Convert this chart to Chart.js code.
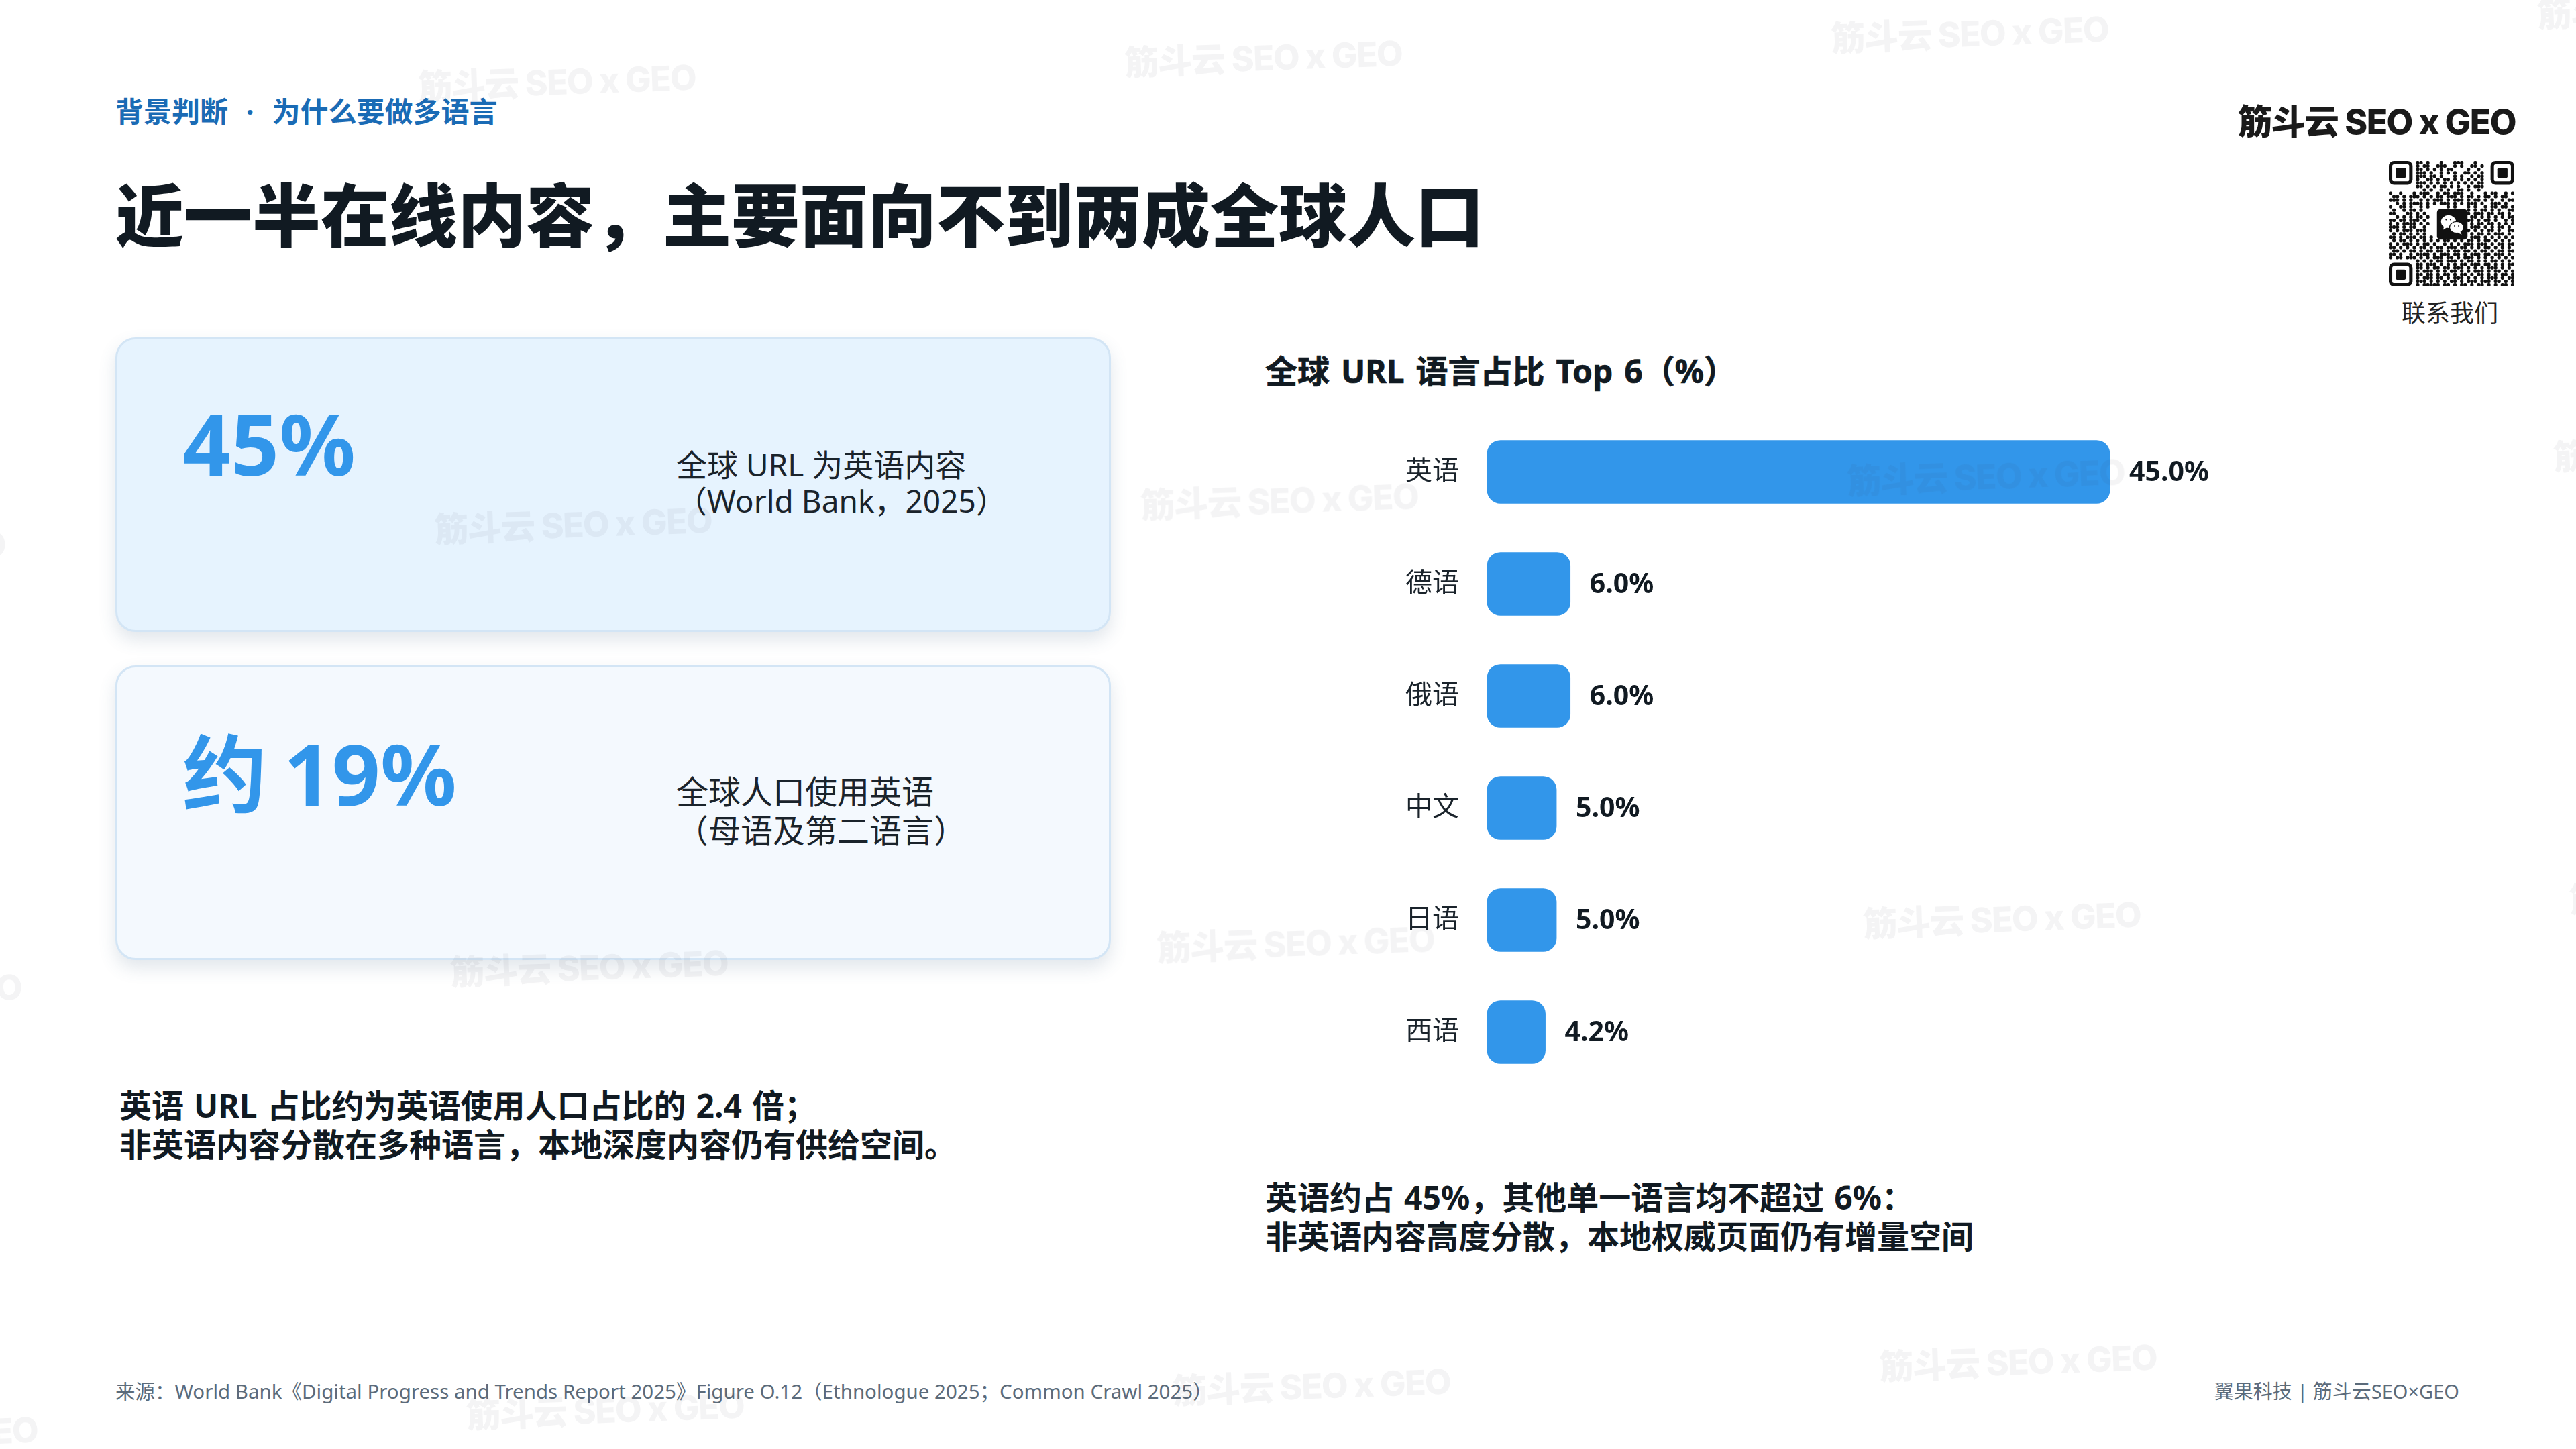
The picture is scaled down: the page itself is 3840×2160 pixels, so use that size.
<!DOCTYPE html>
<html lang="zh-CN"><head><meta charset="utf-8">
<script src="https://cdn.jsdelivr.net/npm/chart.js@4"></script>
<style>
html,body{margin:0;padding:0;background:#fff;width:3840px;height:2160px;overflow:hidden}
body{position:relative;font-family:"Noto Sans","Noto Sans CJK SC",sans-serif;color:#111a22}
.t{position:absolute;white-space:pre;}
.card{position:absolute;left:172px;width:1484px;height:439px;box-sizing:border-box;border:3px solid #d3e5f5;border-radius:30px;box-shadow:0 12px 26px rgba(70,100,130,.16)}
.wm{position:absolute;font-family:Inter,"Noto Sans CJK SC",sans-serif;font-weight:800;font-size:51.5px;letter-spacing:-1.5px;line-height:60px;color:rgba(30,40,50,.05);white-space:pre;transform:translate(-50%,-50%) rotate(-2deg);pointer-events:none}
.num{font-weight:700;font-size:126px;line-height:150px;color:#3296ea;word-spacing:-8px}
.body{font-size:48px;line-height:58px;color:#1a232b}
.note{font-size:48px;line-height:58px;font-weight:700;color:#111a22;word-spacing:2.5px}
#chartBox{position:absolute;left:1871px;top:619.5px;width:1530px;height:1002px}
#qr{position:absolute;left:3561px;top:240px;width:187px;height:187px}
</style></head><body>
<div class="t" style="left:172px;top:136px;font-size:42px;line-height:60px;font-weight:700;color:#1a6bb5;word-spacing:2.5px">背景判断  ·  为什么要做多语言</div>
<div class="t" style="left:172px;top:251px;font-size:102px;line-height:140px;font-weight:900;color:#111a22">近一半在线内容，主要面向不到两成全球人口</div>
<div class="t" style="right:90px;top:151px;font-family:Inter,'Noto Sans CJK SC',sans-serif;font-size:51.5px;line-height:60px;font-weight:800;letter-spacing:-1.5px;color:#1a1a1a">筋斗云 SEO x GEO</div>
<svg id="qr" viewBox="0 0 37 37"></svg>
<div class="t" style="left:3580px;top:442px;font-size:36px;line-height:50px;color:#222">联系我们</div>

<div class="card" style="top:503px;background:#e6f3fe"></div>
<div class="card" style="top:992px;background:#f4f9fe"></div>
<div class="t num" style="left:272px;top:585px">45%</div>
<div class="t num" style="left:272px;top:1077px">约 19%</div>
<div class="t body" style="left:1008px;top:665px;font-size:46px;line-height:54px">全球 URL 为英语内容
（World Bank，2025）</div>
<div class="t body" style="left:1008px;top:1151px">全球人口使用英语
（母语及第二语言）</div>
<div class="t note" style="left:178px;top:1619px">英语 URL 占比约为英语使用人口占比的 2.4 倍；
非英语内容分散在多种语言，本地深度内容仍有供给空间。</div>
<div class="t note" style="left:1886px;top:1756px">英语约占 45%，其他单一语言均不超过 6%：
非英语内容高度分散，本地权威页面仍有增量空间</div>
<div class="t" style="left:1886px;top:519px;font-size:48px;line-height:68px;font-weight:700;-webkit-text-stroke:.7px #111a22;word-spacing:4.5px;color:#111a22">全球 URL 语言占比 Top 6（%）</div>
<div id="chartBox"><canvas id="c" width="1530" height="1002"></canvas></div>
<div class="t" style="left:172px;top:2052px;font-size:29.5px;line-height:44px;color:#5c6b7a">来源：World Bank《Digital Progress and Trends Report 2025》Figure O.12（Ethnologue 2025；Common Crawl 2025）</div>
<div class="t" style="right:174px;top:2052px;font-size:29px;line-height:44px;color:#5c6b7a">翼果科技 | 筋斗云SEO×GEO</div>
<div id="wms"></div>
<script>
const categories = ["英语","德语","俄语","中文","日语","西语"];
const urlShare = [45.0,6.0,6.0,5.0,5.0,4.2];
const barColor = "#3296ea";

const valueLabels = {
  id:"valueLabels",
  afterDatasetsDraw(chart){
    const ctx = chart.ctx;
    ctx.save();
    ctx.font = "700 41px 'Noto Sans','Noto Sans CJK SC',sans-serif";
    ctx.fillStyle = "#111a22";
    ctx.textBaseline = "middle";
    chart.getDatasetMeta(0).data.forEach((el,i)=>{
      ctx.fillText(urlShare[i].toFixed(1)+"%", el.x+29, el.y+2);
    });
    ctx.restore();
  }
};
new Chart(document.getElementById("c"),{
  type:"bar",
  data:{labels:categories,datasets:[{data:urlShare,backgroundColor:barColor,barThickness:94,borderRadius:20,borderSkipped:false}]},
  options:{
    indexAxis:"y",responsive:false,animation:false,devicePixelRatio:1,
    layout:{padding:{left:0,right:256,top:0,bottom:0}},
    plugins:{legend:{display:false},tooltip:{enabled:false},title:{display:false}},
    scales:{
      x:{min:0,max:45,display:false},
      y:{grid:{display:false,drawTicks:false},border:{display:false},
         afterFit(s){s.width=346;s.paddingTop=0;s.paddingBottom=0;},
         ticks:{padding:42,color:"#1a232b",font:{family:"'Noto Sans','Noto Sans CJK SC',sans-serif",size:40}}}
    }
  },
  plugins:[valueLabels]
});

// watermark grid
const wmBox=document.getElementById("wms");
for(let r=0;r<4;r++)for(let c=-1;c<4;c++){
  const d=document.createElement("div");d.className="wm";d.textContent="筋斗云 SEO x GEO";
  d.style.left=(830+1053*c+24*r)+"px";d.style.top=(122-36*c+660*r)+"px";wmBox.appendChild(d);
}

// QR decoration
const qrRows=[
"........##.#...#...###...#...",
"........#.##..###..#.#..##.#.",
"........##.#.#.#.##....#..#..",
"........###.#..#.#.#..##.#.#.",
"........###.##.#...#.#..#.##.",
"........#..##.#.##.#.#.#.#.#.",
"........###.#.#.#.#.#.#.#.##.",
"........##.#.#.##.#.#..#.###.",
"..........#.#..#.#..##.#..#..",
"#..#...#.###..#.##.###..#...#.##..#.#",
".##.#.###.#.#.##.###.#.##.#.##.#.##.",
"###.#.#..#.#.###.#.###.#.##.#.#..#.##",
"..#.#.####.#.#.###.#.#.###.#..###.#..",
"#..##.#..#.#.....#.#...#.#..#.##.##.#",
".#..#.##.#..........#.##.#.##.#.#..##",
"##...##.#.#...........##.###.##.##.#.",
"..#.#.#.##.#..........#.##.#.#.#.#.##",
"##.##.###.#...........###.#.##.#..#.#",
"#.#.####.#.#..........#.#.##.##.#.#.#",
"###.#.##..#...........#.###.#.#.##.#.",
"#.#.###.###...........##.#.#.##.#..##",
".#.##.#.#.#...........#.#.##.#.###.#.",
"##.#.###.##.#...........###.#.#.#.#.#",
".#.##.#.#.#.#.#.##.#.#.##.#.##.#.#.#.",
"#.#.###.#.##.#..#.#.#.###.###.#.##.##",
"##.#.#.#.##.#.##.###.##.#.#.##.#.#.#.",
".##.#.##.#.##.##.#.##.##.#.##.#.##.##",
"##.#..#.####.#.###.##.#.###.##.###.#.",
"#.##.###.#.#.###.##.#.###.#.#.#.#.#.#",
"........#.#.#.##.###.#.##.#.#.##.#.#.",
"........##.###.#.#.#.##.###.##.#.#.##",
"........##.#.##.##.###.#.#.#.###.#.#.",
"........#.###.#.#.##.#.#.###.#.##.#.#",
"........##.##.#.##.#.##.#.##.#.#.##.#",
"........#.###.##.#.###.#.#.#.###.#.##",
"........###.#.#.#.##.#.###.###.##.#.#",
"........#.#####.##.#.##.#.##.#.#.##.#"
];
const qr=document.getElementById("qr");let s="";
qrRows.forEach((row,y)=>{[...row.padEnd(37,".")].forEach((ch,x)=>{
  const inF=(x<8&&y<8)||(x>28&&y<8)||(x<8&&y>28);
  const inL=x>=14&&x<23&&y>=14&&y<23;
  if(ch==="#"&&!inF&&!inL)s+=`<rect x="${x}" y="${y}" width="1" height="1" rx=".35" fill="#111"/>`;
});});
[[0,0],[30,0],[0,30]].forEach(([x,y])=>{
  s+=`<rect x="${x+.5}" y="${y+.5}" width="6" height="6" rx="1" fill="none" stroke="#111" stroke-width="1"/>`;
  s+=`<rect x="${x+2}" y="${y+2}" width="3" height="3" rx=".4" fill="#111"/>`;
});
s+=`<rect x="14.2" y="14.2" width="9" height="9" rx="1" fill="#111"/>`;
s+=`<ellipse cx="17.6" cy="17.9" rx="2.2" ry="1.9" fill="#fff"/><path d="M16.3 19.2l-.3 1.1 1.2-.7z" fill="#fff"/>`;
s+=`<ellipse cx="20" cy="19.6" rx="2.1" ry="1.7" stroke="#111" stroke-width=".25" fill="#fff"/><path d="M21 20.8l.5.9-1.3-.6z" fill="#fff"/>`;
s+=`<circle cx="16.9" cy="17.3" r=".22" fill="#111"/><circle cx="18.2" cy="17.3" r=".22" fill="#111"/><circle cx="19.4" cy="19.2" r=".2" fill="#111"/><circle cx="20.6" cy="19.2" r=".2" fill="#111"/>`;
qr.innerHTML=s;
</script>
</body></html>
